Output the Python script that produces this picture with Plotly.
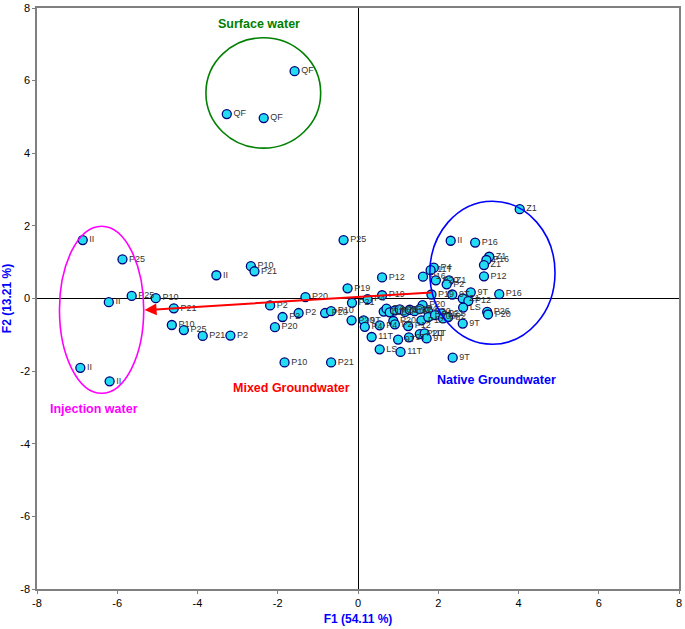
import plotly.graph_objects as go

# ---- sample scores on F1/F2 ----
labels = [
    # surface water
    "QF", "QF", "QF",
    # injection water
    "II", "P25", "P25", "II", "P10", "II", "II",
    # mixed groundwater
    "II", "P21", "P10", "P25", "P21", "P2", "P25", "P10", "P21", "P19", "P20",
    "P2", "P2", "P2", "P20", "P10", "P20", "P20", "P10", "P21", "P21", "P4",
    # native / near-zero cluster
    "Z1", "II", "P16", "Z1", "P16", "Z1", "P12", "P12", "P16", "P4", "11T",
    "P20", "Z1", "P2", "P19", "9T", "9T", "P16", "Z1", "P12", "LS", "P26",
    "P20", "P19", "P20",
    "11T", "P4", "LS", "P20", "P2", "P16", "P12", "9T", "P4", "P20", "P21",
    "9T", "P4", "P4", "P20", "P2", "P12", "P12", "P20", "P16", "P4", "P2",
    "9T", "11T", "9T", "9T", "P20", "11T", "9T", "LS", "11T", "9T",
]
f1 = [
    -1.58, -3.27, -2.35,
    -6.86, -5.87, -5.64, -6.21, -5.04, -6.92, -6.19,
    -3.53, -4.59, -4.64, -4.34, -3.87, -3.18, -0.36, -2.67, -2.58, -0.26, -1.31,
    -2.19, -1.88, -1.48, -0.82, -0.67, -2.07, -0.16, -1.83, -0.67, -0.15, 0.24,
    4.03, 2.31, 2.92, 3.27, 3.20, 3.14, 3.14, 0.60, 1.62, 1.89, 1.81,
    1.94, 2.27, 2.21, 1.83, 2.35, 2.81, 3.52, 2.61, 2.75, 2.62, 3.22,
    3.24, 0.60, 1.61,
    0.64, 0.71, 0.79, 0.92, 1.04, 1.17, 1.29, 1.41, 1.54, 1.75, 2.08,
    0.14, 0.17, 0.54, 0.88, 0.92, 1.25, 1.58, 1.75, 1.92, 2.12, 2.25,
    2.61, 0.34, 1.00, 1.27, 1.54, 1.66, 1.71, 0.54, 1.06, 2.36,
]
f2 = [
    6.26, 5.08, 4.97,
    1.61, 1.08, 0.07, -0.10, 0.01, -1.91, -2.28,
    0.64, -0.27, -0.73, -0.87, -1.03, -1.02, 1.61, 0.89, 0.75, 0.28, 0.04,
    -0.19, -0.51, -0.40, -0.40, -0.35, -0.79, -0.60, -1.76, -1.76, -0.12, -0.02,
    2.46, 1.59, 1.54, 1.15, 1.06, 0.92, 0.61, 0.58, 0.60, 0.85, 0.78,
    0.50, 0.50, 0.39, 0.11, 0.11, 0.17, 0.12, 0.00, -0.07, -0.25, -0.37,
    -0.44, 0.09, -0.18,
    -0.36, -0.28, -0.38, -0.33, -0.30, -0.37, -0.31, -0.35, -0.29, -0.36, -0.41,
    -0.60, -0.78, -0.74, -0.62, -0.71, -0.76, -0.60, -0.51, -0.46, -0.55, -0.51,
    -0.69, -1.06, -1.13, -1.07, -0.98, -0.96, -1.10, -1.40, -1.47, -1.63,
]

# ---- group ellipses and labels ----
group_names = ["Surface water", "Injection water", "Mixed Groundwater", "Native Groundwater"]
group_colors = ["#008000", "#FF00FF", "#FF0000", "#0000FF"]
group_label_x = [-2.47, -6.59, -1.65, 3.46]
group_label_y = [7.55, -3.05, -2.47, -2.25]
ellipse_x0 = [-3.79, -7.44, 1.79]
ellipse_x1 = [-0.93, -5.34, 4.91]
ellipse_y0 = [4.14, -2.61, -1.26]
ellipse_y1 = [7.18, 1.99, 2.68]
ellipse_colors = ["#008000", "#FF00FF", "#0000FF"]

# ---- mixing arrow (tail -> head) ----
arrow_tail = (1.87, 0.17)
arrow_head = (-5.32, -0.32)

axis_ticks = [-8, -6, -4, -2, 0, 2, 4, 6, 8]

fig = go.Figure()
fig.add_trace(go.Scatter(
    x=f1, y=f2, mode="markers+text", text=labels,
    textposition="middle right",
    textfont=dict(family="Liberation Sans, Arial", size=9, color="#333333"),
    marker=dict(size=9, color="#22DDF2", line=dict(color="#00007A", width=1.3)),
    hoverinfo="skip", showlegend=False, cliponaxis=False,
))

for x0, x1, y0, y1, c in zip(ellipse_x0, ellipse_x1, ellipse_y0, ellipse_y1, ellipse_colors):
    fig.add_shape(type="circle", xref="x", yref="y", x0=x0, x1=x1, y0=y0, y1=y1,
                  line=dict(color=c, width=1.6), layer="above")

for name, c, gx, gy in zip(group_names, group_colors, group_label_x, group_label_y):
    fig.add_annotation(x=gx, y=gy, text="<b>" + name + "</b>", showarrow=False,
                       font=dict(family="Liberation Sans, Arial", size=12.5, color=c))

fig.add_annotation(x=arrow_head[0], y=arrow_head[1], ax=arrow_tail[0], ay=arrow_tail[1],
                   xref="x", yref="y", axref="x", ayref="y", text="", showarrow=True,
                   arrowhead=2, arrowsize=1.2, arrowwidth=2, arrowcolor="#FF0000")

axis_common = dict(
    range=[-8, 8], tickvals=axis_ticks, ticktext=[str(t) for t in axis_ticks],
    showgrid=False, zeroline=True, zerolinecolor="#000000", zerolinewidth=1,
    showline=True, linecolor="#808080", linewidth=1.5, mirror=True,
    ticks="outside", ticklen=3, tickcolor="#808080", automargin=False,
    tickfont=dict(family="Liberation Sans, Arial", size=11, color="#000000"),
)
fig.update_xaxes(**axis_common,
                 title=dict(text="<b>F1 (54.11 %)</b>", standoff=7,
                            font=dict(family="Liberation Sans, Arial", size=12, color="#0000FF")))
fig.update_yaxes(**axis_common,
                 title=dict(text="<b>F2 (13.21 %)</b>", standoff=6,
                            font=dict(family="Liberation Sans, Arial", size=12, color="#0000FF")))

fig.update_layout(
    width=685, height=629,
    margin=dict(l=37, r=6, t=8, b=40, autoexpand=False),
    plot_bgcolor="#FFFFFF", paper_bgcolor="#FFFFFF",
)
fig.write_html("out.html", config={"displayModeBar": False},
               post_script="document.body.style.margin='0';")
